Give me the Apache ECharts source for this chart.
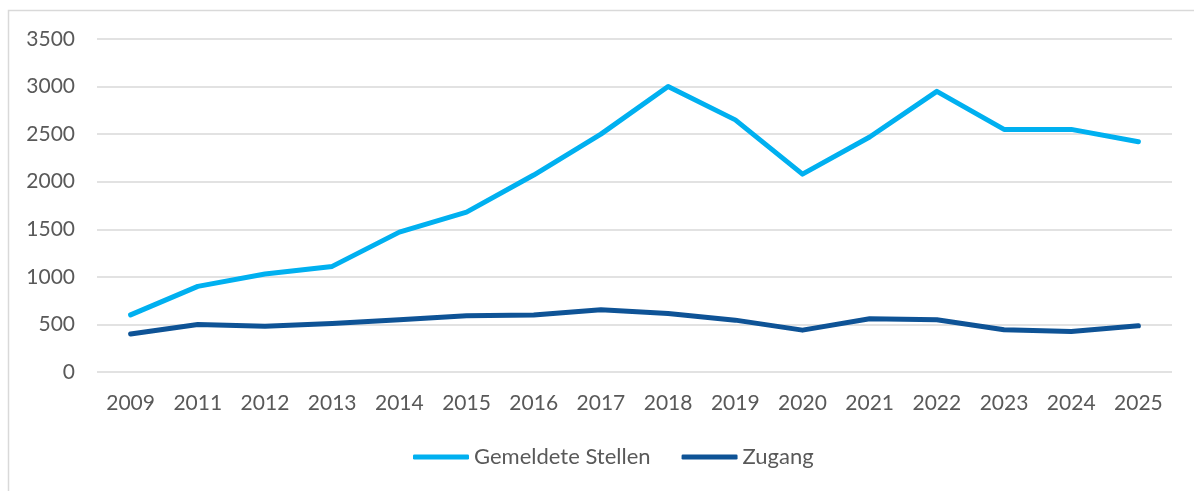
<!DOCTYPE html>
<html>
<head>
<meta charset="utf-8">
<script src="https://cdn.jsdelivr.net/npm/echarts@6/dist/echarts.min.js"></script>
<style>
  html, body { margin: 0; padding: 0; background: #fff; }
  #chart { width: 1194px; height: 491px; }
</style>
</head>
<body>
<div id="chart"></div>
<script>
const years = ['2009', '2011', '2012', '2013', '2014', '2015', '2016', '2017', '2018', '2019', '2020', '2021', '2022', '2023', '2024', '2025']
const gemeldeteStellen = [600, 900, 1030, 1110, 1470, 1680, 2070, 2500, 3000, 2650, 2080, 2470, 2950, 2550, 2550, 2420]
const zugang = [400, 500, 480, 510, 550, 590, 600, 655, 615, 545, 440, 560, 550, 445, 425, 485]

const chart = echarts.init(document.getElementById('chart'))

const fontFamily = 'Lato, "Open Sans", sans-serif'

chart.setOption({
  animation: false,
  graphic: [{
    type: 'rect',
    shape: { x: 8.5, y: 10.5, width: 1200, height: 500 },
    style: { fill: 'none', stroke: '#d9d9d9', lineWidth: 1.5 },
    silent: true
  }],
  grid: { left: 97, right: 22, top: 39, bottom: 119 },
  legend: {
    bottom: 18,
    left: 408,
    itemWidth: 56,
    itemHeight: 5,
    itemGap: 31,
    icon: 'roundRect',
    textStyle: { color: '#595959', fontSize: 22, fontFamily: fontFamily },
    data: ['Gemeldete Stellen', 'Zugang']
  },
  xAxis: {
    type: 'category',
    data: years,
    boundaryGap: true,
    axisLine: { show: false },
    axisTick: { show: false },
    axisLabel: { color: '#595959', fontSize: 21, fontFamily: fontFamily, margin: 21 }
  },
  yAxis: {
    type: 'value',
    min: 0,
    max: 3500,
    interval: 500,
    axisLine: { show: false },
    axisTick: { show: false },
    axisLabel: {
      color: '#595959', fontSize: 21, fontFamily: fontFamily, margin: 22,
      formatter: (v) => String(v)
    },
    splitLine: { lineStyle: { color: '#d9d9d9', width: 1.5 } }
  },
  series: [
    {
      name: 'Gemeldete Stellen',
      type: 'line',
      data: gemeldeteStellen,
      showSymbol: false,
      lineStyle: { color: '#00b0f0', width: 5, cap: 'round', join: 'round' },
      itemStyle: { color: '#00b0f0' }
    },
    {
      name: 'Zugang',
      type: 'line',
      data: zugang,
      showSymbol: false,
      lineStyle: { color: '#0e5396', width: 5, cap: 'round', join: 'round' },
      itemStyle: { color: '#0e5396' }
    }
  ]
})
</script>
</body>
</html>
